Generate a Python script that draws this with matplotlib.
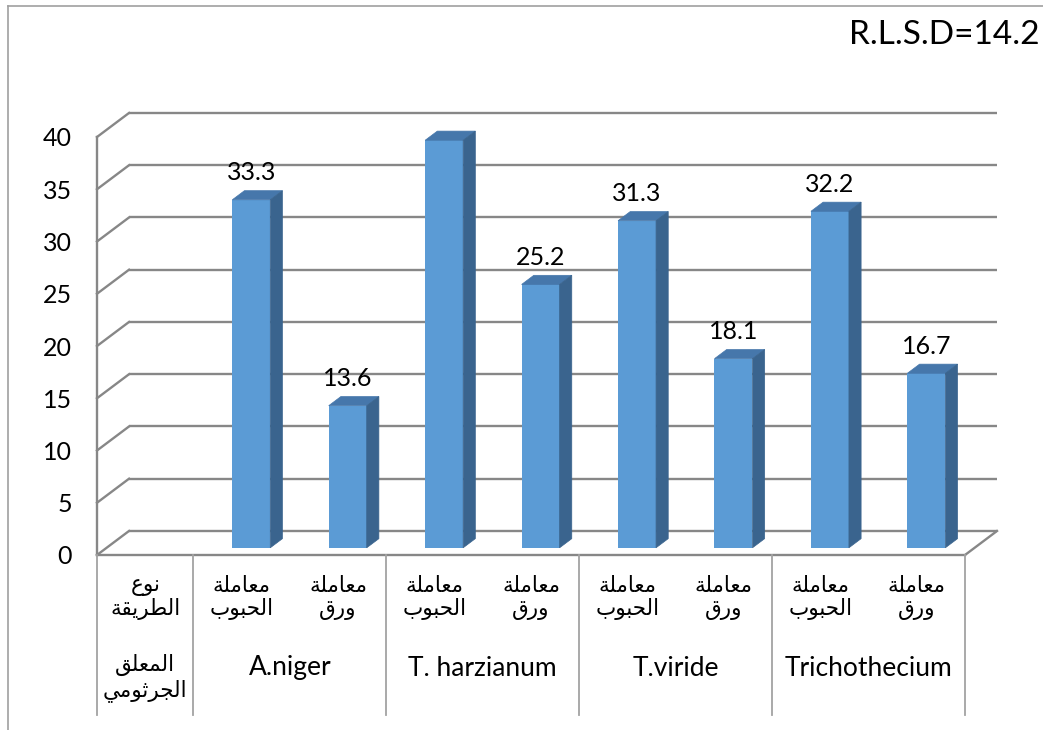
import matplotlib
matplotlib.use("Agg")
import matplotlib.pyplot as plt
from matplotlib.lines import Line2D
from matplotlib.patches import Polygon

plt.rcParams['font.family'] = ['Lato', 'DejaVu Sans']

# Arabic words, written in contextual presentation forms in display order
NOA = "\uFEC9\uFEEE\uFEE7"                               # نوع
TARIQA = "\uFE94\uFED8\uFEF3\uFEAE\uFEC4\uFEDF\uFE8D"    # الطريقة
MUALLAQ = "\uFED6\uFEE0\uFECC\uFEE4\uFEDF\uFE8D"         # المعلق
JURTHUMI = "\uFEF2\uFEE3\uFEEE\uFE9B\uFEAE\uFEA0\uFEDF\uFE8D"  # الجرثومي
MUAMALA = "\uFE94\uFEE0\uFEE3\uFE8E\uFECC\uFEE3"         # معاملة
HUBUB = "\uFE8F\uFEEE\uFE92\uFEA4\uFEDF\uFE8D"           # الحبوب
WARAQ = "\uFED5\uFEAD\uFEED"                             # ورق

header_inner = NOA + "\n" + TARIQA
header_outer = MUALLAQ + "\n" + JURTHUMI
treatments = [MUAMALA + "\n" + HUBUB, MUAMALA + "\n" + WARAQ]
groups = ["A.niger", "T. harzianum", "T.viride", "Trichothecium"]
values = [33.3, 13.6, 39, 25.2, 31.3, 18.1, 32.2, 16.7]
y_ticks = [0, 5, 10, 15, 20, 25, 30, 35, 40]
note = "R.L.S.D=14.2"

inner_labels = [header_inner] + treatments * len(groups)
n_cols = len(inner_labels)

W_PX, H_PX = 1043, 730
fig = plt.figure(figsize=(W_PX / 100, H_PX / 100), dpi=100)
ax = fig.add_axes([97 / W_PX, 175 / H_PX, 868 / W_PX, 418 / H_PX])
ax.set_xlim(0, n_cols)
ax.set_ylim(0, 40)
for s in ax.spines.values():
    s.set_visible(False)

# depth of the 3-D box in data units
DX = 0.332
DY = 2.30
GRID = "#878787"
LW = 1.7

# back wall gridlines and the side-wall diagonals
for v in y_ticks:
    ax.add_line(Line2D([DX, n_cols + DX], [v + DY, v + DY], color=GRID, lw=LW,
                       clip_on=False, zorder=1, solid_capstyle='butt'))
    ax.add_line(Line2D([0, DX], [v, v + DY], color=GRID, lw=LW,
                       clip_on=False, zorder=1))
# floor front edge, right edge and the front vertical axis
ax.add_line(Line2D([0, n_cols], [0, 0], color=GRID, lw=LW, clip_on=False, zorder=1))
ax.add_line(Line2D([n_cols, n_cols + DX], [0, DY], color=GRID, lw=LW, clip_on=False, zorder=1))
ax.add_line(Line2D([0, 0], [0, 40], color=GRID, lw=LW, clip_on=False, zorder=1))

# 3-D columns
F0 = 0.30     # depth where the front face sits
BD = 0.38     # column depth
BW = 0.394    # column width
FRONT, TOP, SIDE = "#5b9bd5", "#4677ab", "#3a648e"
xs = [i + 1 + 0.5 + F0 * DX for i in range(len(values))]
base = F0 * DY
ax.bar(xs, values, width=BW, bottom=base, color=FRONT, zorder=3, clip_on=False)
for x, v in zip(xs, values):
    x0, x1 = x - BW / 2, x + BW / 2
    top = v + base
    ax.add_patch(Polygon([(x0, top), (x1, top), (x1 + BD * DX, top + BD * DY),
                          (x0 + BD * DX, top + BD * DY)], closed=True,
                         facecolor=TOP, edgecolor=TOP, lw=0.5, zorder=3, clip_on=False))
    ax.add_patch(Polygon([(x1, base), (x1 + BD * DX, base + BD * DY),
                          (x1 + BD * DX, top + BD * DY), (x1, top)], closed=True,
                         facecolor=SIDE, edgecolor=SIDE, lw=0.5, zorder=3, clip_on=False))
    ax.annotate(f"{v:g}", xy=(x, top + BD * DY), xytext=(0, 13),
                textcoords="offset points", ha="center", va="center",
                fontsize=18, color="black", zorder=4)

# value axis labels
ax.set_yticks(y_ticks)
ax.tick_params(axis='y', length=0, pad=18, labelsize=18)
ax.set_xticks([])

# category table under the plot
TABLE = "#a3a3a3"
xt = ax.get_xaxis_transform()
tbl_depth = -160 / 418
for xv in [0, 1, 3, 5, 7, 9]:
    ax.add_line(Line2D([xv, xv], [0, tbl_depth], transform=xt, color=TABLE,
                       lw=1.3, clip_on=False, zorder=1))
for i, lab in enumerate(inner_labels):
    ax.text(i + 0.5, -43 / 418, lab, transform=xt, ha="center", va="center",
            fontsize=15.5, linespacing=1.15, family=['DejaVu Sans'])
ax.text(0.5, -123 / 418, header_outer, transform=xt, ha="center", va="center",
        fontsize=15.5, linespacing=1.15, family=['DejaVu Sans'])
for g, name in enumerate(groups):
    ax.text(2 + 2 * g, -113 / 418, name, transform=xt, ha="center", va="center",
            fontsize=19)

# chart frame and note
BORDER = "#a0a0a0"
fig.add_artist(Line2D([8 / W_PX, 8 / W_PX], [0, 1 - 6 / H_PX], transform=fig.transFigure,
                      color=BORDER, lw=1.2))
fig.add_artist(Line2D([8 / W_PX, 1], [1 - 6 / H_PX, 1 - 6 / H_PX], transform=fig.transFigure,
                      color=BORDER, lw=1.2))
fig.text(1040 / W_PX, 1 - 35 / H_PX, note, ha="right", va="center", fontsize=24)

fig.savefig("out.png", dpi=100)
